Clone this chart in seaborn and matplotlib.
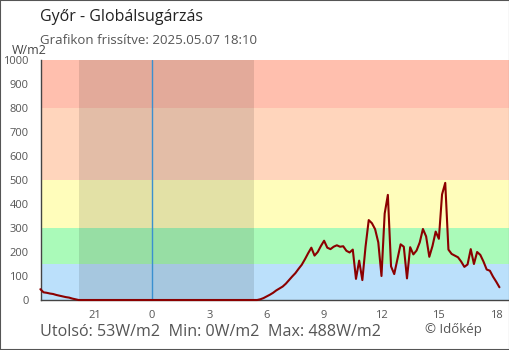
import numpy as np
import pandas as pd
import matplotlib
matplotlib.use("Agg")
import matplotlib.pyplot as plt
import matplotlib.dates as mdates
from matplotlib.patches import Rectangle
import seaborn as sns

# ---------------- data (W/m2, 10-minute readings) ----------------
start_time = "2025-05-06 18:10"
end_time = "2025-05-07 18:10"

evening_values = [45, 32, 30, 27, 25, 21, 18, 15, 12, 10, 6, 3]          # 18:10 .. 20:00
night_values = [0] * 57                                                    # 20:10 .. 05:30
day_values = [3, 8, 15, 22, 30, 40, 48, 56, 68, 83, 98, 112, 130, 147,     # 05:40 ..
              170, 195, 218, 185, 200, 225, 247, 218, 212, 222, 228, 222,
              224, 205, 198, 210, 88, 164, 83, 222, 333, 320, 295, 240,
              100, 360, 438, 140, 108, 170, 232, 222, 90, 220, 190, 206,
              240, 296, 265, 180, 225, 285, 255, 440, 488, 210, 192, 185,
              178, 160, 138, 148, 212, 150, 200, 188, 160, 127, 122, 97,
              76, 53]                                                      # .. 18:10

band_limits = [0, 150, 300, 500, 800, 1000]
band_colors = ["#bbe0fb", "#aafab9", "#fffdbb", "#ffd5bc", "#ffbfae"]

tick_hours = ["2025-05-06 21:00", "2025-05-07 00:00", "2025-05-07 03:00",
              "2025-05-07 06:00", "2025-05-07 09:00", "2025-05-07 12:00",
              "2025-05-07 15:00", "2025-05-07 18:00"]
tick_labels = ["21", "0", "3", "6", "9", "12", "15", "18"]
sunset = "2025-05-06 20:11"
sunrise = "2025-05-07 05:20"
midnight = "2025-05-07 00:00"

title = "Győr - Globálsugárzás"
subtitle = "Grafikon frissítve: 2025.05.07 18:10"
summary = "Utolsó: 53W/m2  Min: 0W/m2  Max: 488W/m2"
credit = "© Időkép"

values = evening_values + night_values + day_values
times = pd.date_range(start_time, end_time, freq="10min")
df = pd.DataFrame({"time": times, "value": values})

# ---------------- style ----------------
sns.set_style("white")
plt.rcParams["font.family"] = ["Open Sans", "DejaVu Sans"]

W, H = 510, 350
fig = plt.figure(figsize=(W / 100, H / 100), dpi=100)
ax = fig.add_axes([41 / W, 50 / H, 468 / W, 240 / H])

for lo, hi, c in zip(band_limits[:-1], band_limits[1:], band_colors):
    ax.axhspan(lo, hi, color=c, lw=0, zorder=0)

ax.axvspan(pd.Timestamp(sunset), pd.Timestamp(sunrise), color="black",
           alpha=0.11, lw=0, zorder=1)
ax.axvline(pd.Timestamp(midnight), color="#3a90d0", lw=1, zorder=2)

sns.lineplot(data=df, x="time", y="value", ax=ax, color="#8b0000",
             lw=1.5, zorder=3, clip_on=False)

ax.set_ylim(0, 1000)
ax.set_xlim(pd.Timestamp("2025-05-06 18:12"), pd.Timestamp("2025-05-07 18:40"))
ax.set_yticks(range(0, 1001, 100))
ax.set_xticks([pd.Timestamp(t) for t in tick_hours])
ax.set_xticklabels(tick_labels)
ax.set_xlabel("")
ax.set_ylabel("")

ax.tick_params(axis="y", direction="out", length=7, width=1, color="#444444",
               labelsize=8, labelcolor="#555555", pad=2)
ax.tick_params(axis="x", direction="inout", length=11, width=1, color="#444444",
               labelsize=8, labelcolor="#555555", pad=2)
for s in ["top", "right"]:
    ax.spines[s].set_visible(False)
for s in ["left", "bottom"]:
    ax.spines[s].set_color("#444444")
    ax.spines[s].set_linewidth(1)

fig.text(40 / W, 1 - 17 / H, title, fontsize=11.5, color="#222222", va="center")
fig.text(40 / W, 1 - 40 / H, subtitle, fontsize=9.5, color="#555555", va="center")
fig.text(12 / W, 1 - 50 / H, "W/m2", fontsize=9, color="#444444", va="center")
fig.text(40 / W, 1 - 332 / H, summary, fontsize=11.6, color="#555555", va="center")
fig.text(425 / W, 1 - 330 / H, credit, fontsize=9.5, color="#555555", va="center")

fig.patches.append(Rectangle((0, 0), 1, 1, transform=fig.transFigure,
                             fill=False, edgecolor="#555555", lw=1.5))

fig.savefig("out.png", dpi=100)
